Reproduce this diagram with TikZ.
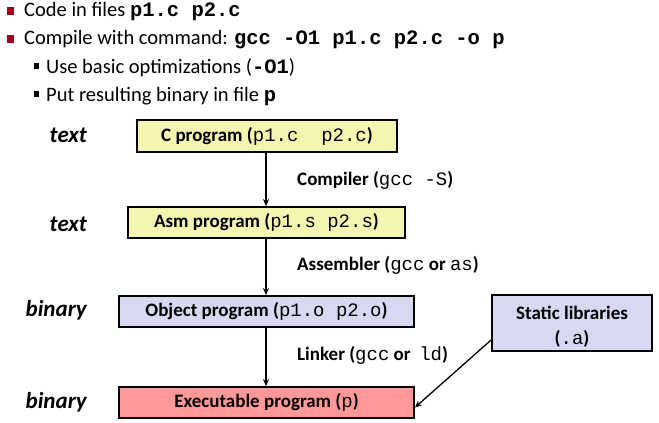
\documentclass[tikz,border=0pt]{standalone}
\usepackage{fontspec}
\setmainfont{Carlito}
\setmonofont{Liberation Mono}
\usetikzlibrary{arrows.meta}
\definecolor{boxyellow}{RGB}{245,245,178}
\definecolor{boxlav}{RGB}{216,216,242}
\definecolor{boxred}{RGB}{255,153,153}
\definecolor{bulletred}{RGB}{160,0,32}
\tikzset{
  stagebox/.style={draw=black, line width=1.8pt, inner sep=0pt, font=\fontsize{19}{22}\selectfont\bfseries},
  sidelabel/.style={anchor=east, inner sep=0pt, font=\fontsize{23}{26}\selectfont\bfseries\itshape},
  steplabel/.style={anchor=west, inner sep=0pt, font=\fontsize{19}{22}\selectfont\bfseries},
  bullettext/.style={anchor=west, inner sep=0pt, font=\fontsize{20.5}{24}\selectfont},
  flowarrow/.style={-{Stealth[length=7pt,width=6pt]}, line width=1.3pt},
}
\newcommand{\mtt}[1]{{\ttfamily\mdseries #1}}
\newcommand{\btt}[1]{{\ttfamily\bfseries #1}}
\begin{document}
\begin{tikzpicture}[x=1pt,y=-1pt]
\useasboundingbox (0,0) rectangle (659,423);
% bullets
\fill[bulletred] (6.5,6.5) rectangle (13.5,14.5);
\fill[bulletred] (6.5,34.5) rectangle (13.5,42.5);
\fill[black] (34,63) rectangle (39,69);
\fill[black] (34,91) rectangle (39,97);
\node[bullettext] (l1) at (24,12) {Code in files \btt{p1.c p2.c}};
\node[bullettext] (l2) at (24,40) {Compile with command: \btt{gcc -O1 p1.c p2.c -o p}};
\node[bullettext] (l3) at (46,68) {Use basic optimizations (\btt{-O1})};
\node[bullettext] (l4) at (46,97) {Put resulting binary in file \btt{p}};
% boxes
\node[stagebox, fill=boxyellow, minimum width=260pt, minimum height=32pt] (c) at (267,136) {C program (\mtt{p1.c\ \ p2.c})};
\node[stagebox, fill=boxyellow, minimum width=277pt, minimum height=31pt] (asm) at (266.5,222.5) {Asm program (\mtt{p1.s p2.s})};
\node[stagebox, fill=boxlav, minimum width=295pt, minimum height=31pt] (obj) at (266.5,311.5) {Object program (\mtt{p1.o p2.o})};
\node[stagebox, fill=boxred, minimum width=295pt, minimum height=31pt] (exe) at (266.5,402.5) {Executable program (\mtt{p})};
\node[stagebox, fill=boxlav, minimum width=160pt, minimum height=56pt] (lib) at (572,323) {};
\node[font=\fontsize{19}{22}\selectfont\bfseries, align=center, inner sep=0pt] (libtext) at ([yshift=-4pt]lib.center) {Static libraries\\[3pt](\mtt{.a})};
% side labels
\node[sidelabel] (s1) at (87,135) {text};
\node[sidelabel] (s2) at (87,224) {text};
\node[sidelabel] (s3) at (87,310) {binary};
\node[sidelabel] (s4) at (87,402) {binary};
% step labels
\node[steplabel] (t1) at (297,180) {Compiler (\mtt{gcc -S})};
\node[steplabel] (t2) at (297,265) {Assembler (\mtt{gcc} or \mtt{as})};
\node[steplabel] (t3) at (297,355) {Linker (\mtt{gcc} or\ \ \mtt{ld})};
% arrows
\draw[flowarrow] (c.south -| 266,0) -- (asm.north -| 266,0);
\draw[flowarrow] (asm.south -| 266,0) -- (obj.north -| 266,0);
\draw[flowarrow] (obj.south -| 266,0) -- (exe.north -| 266,0);
\coordinate (libout) at ([yshift=-17pt]lib.west);
\coordinate (exein) at ([yshift=-5pt]exe.east);
\draw[flowarrow] (libout) -- (exein);
\end{tikzpicture}
\end{document}
